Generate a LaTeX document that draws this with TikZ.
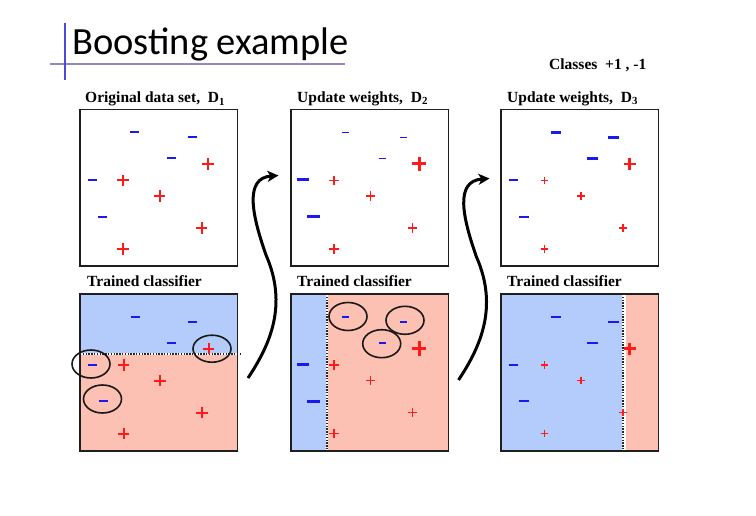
\documentclass[tikz,border=0pt]{standalone}
\usepackage{fontspec}
\setmainfont{Liberation Serif}
\newfontfamily\titlefont{Carlito}
\usetikzlibrary{arrows.meta}
\definecolor{regblue}{HTML}{B3CCFB}
\definecolor{regred}{HTML}{FCC1B3}
\definecolor{ptblue}{HTML}{1A1AF0}
\definecolor{ptred}{HTML}{FF1A1A}
\definecolor{barblue}{HTML}{4B4BD8}
\definecolor{linelav}{HTML}{8C8CCC}
\newcommand{\mkminus}[4]{\draw[ptblue,line width=#4] (#1,#2) +(-#3,0) -- +(#3,0);}
\newcommand{\mkplus}[4]{\draw[ptred,line width=#4] (#1,#2) +(-#3,0) -- +(#3,0) +(0,-#3) -- +(0,#3);}
\newcommand{\drawpts}[8]{%
 \mkminus{55.5}{24}{#1}{#2}
 \mkminus{113.3}{29}{#1}{#2}
 \mkminus{92}{50}{#1}{#2}
 \mkminus{13}{71.5}{#3}{#4}
 \mkminus{23.5}{108.3}{#3}{#4}
 \mkplus{129}{55.5}{#5}{#6}
 \mkplus{44}{72}{#7}{#8}
 \mkplus{80.5}{87.5}{#7}{#8}
 \mkplus{122.5}{119.5}{#7}{#8}
 \mkplus{44}{140.5}{#7}{#8}}
\tikzset{
 panelbox/.style={draw=black!88, line width=1.8pt, inner sep=0pt, outer sep=0pt, anchor=north west, minimum width=157.5pt, minimum height=156.5pt},
 captxt/.style={font=\bfseries\fontsize{15.5}{18}\selectfont, inner sep=0pt, anchor=base west},
 ringst/.style={draw=black!90, line width=1.6pt},
 divwhite/.style={white, line width=2.2pt},
 divdot/.style={black!85, line width=1.8pt, dash pattern=on 1.4pt off 1.4pt},
 flowarrow/.style={black, line width=3pt, -{Stealth[length=11pt,width=11pt,inset=3pt]}}
}
\begin{document}
\begin{tikzpicture}[x=1pt,y=-1pt]
\useasboundingbox[fill=white] (0,0) rectangle (756,516);
% title
\node[anchor=base west, inner sep=0pt, font=\titlefont\fontsize{38.5}{42}\selectfont] (title) at (72,55) {Boosting example};
\draw[linelav, line width=2pt] (50,64) -- (345,64);
\draw[barblue, line width=2.5pt] (65,23) -- (65,80);
\node[captxt] (classes) at (549,70) {Classes\ \ +1 , -1};
% captions
\node[captxt] (c1) at (85,103) {Original data set,\ \ D\textsubscript{1}};
\node[captxt] (c2) at (297,102.5) {Update weights,\ \ D\textsubscript{2}};
\node[captxt] (c3) at (507,102.5) {Update weights,\ \ D\textsubscript{3}};
\node[captxt] (t1) at (87,286.5) {Trained classifier};
\node[captxt] (t2) at (297,286.5) {Trained classifier};
\node[captxt] (t3) at (507,286.5) {Trained classifier};
% region fills
\fill[regblue] (80,294) rectangle (237.5,354);
\fill[regred] (80,354) rectangle (237.5,451);
\fill[regblue] (291,294) rectangle (326.7,451);
\fill[regred] (326.7,294) rectangle (448.5,451);
\fill[regblue] (501,294) rectangle (622.7,451);
\fill[regred] (622.7,294) rectangle (658.5,451);
% dividers
\draw[divwhite] (80,354) -- (242,354);
\draw[divdot] (80,354) -- (242,354);
\draw[divwhite] (326.7,294) -- (326.7,451);
\draw[divdot] (326.7,294) -- (326.7,451);
\draw[white, line width=3.5pt] (624,294) -- (624,451);
\draw[divdot] (622.7,294) -- (622.7,451);
% panels
\node[panelbox] (p1t) at (80,109.5) {};
\node[panelbox] (p2t) at (291,109.5) {};
\node[panelbox] (p3t) at (501,109.5) {};
\node[panelbox, minimum height=157pt] (p1b) at (80,294) {};
\node[panelbox, minimum height=157pt] (p2b) at (291,294) {};
\node[panelbox, minimum height=157pt] (p3b) at (501,294) {};
% points
\begin{scope}[shift={(79,108.5)}]
 \drawpts{4.5}{2pt}{4.5}{2pt}{5.8}{2pt}{5.8}{2pt}
\end{scope}
\begin{scope}[shift={(79.5,293)}]
 \drawpts{4.5}{2pt}{4.5}{2pt}{5.8}{2pt}{5.8}{2pt}
\end{scope}
\begin{scope}[shift={(290,108.5)}]
 \drawpts{3.5}{1.6pt}{6.3}{3pt}{7.3}{3pt}{4.6}{1.8pt}
\end{scope}
\begin{scope}[shift={(290,293)}]
 \drawpts{3.5}{1.6pt}{6.3}{3pt}{7.3}{3pt}{4.6}{1.8pt}
\end{scope}
\begin{scope}[shift={(500.5,108.5)}]
 \drawpts{5.4}{2.6pt}{4.6}{2pt}{6}{2.6pt}{3.9}{1.8pt}
\end{scope}
\begin{scope}[shift={(500.5,293)}]
 \drawpts{5.4}{2.6pt}{4.6}{2pt}{6}{2.6pt}{3.9}{1.8pt}
\end{scope}
% misclassified rings
\draw[ringst] (212,348.7) ellipse [x radius=19pt, y radius=13.5pt];
\draw[ringst] (91,364) ellipse [x radius=19pt, y radius=14pt];
\draw[ringst] (102.5,399) ellipse [x radius=19pt, y radius=14pt];
\draw[ringst] (348,316.5) ellipse [x radius=19pt, y radius=14pt];
\draw[ringst] (405,320.3) ellipse [x radius=19pt, y radius=14pt];
\draw[ringst] (381.7,343.7) ellipse [x radius=19pt, y radius=14pt];
% arrows
\coordinate (a1s) at (248,378);
\coordinate (a1e) at (278.5,175.5);
\coordinate (a2s) at (458.5,380);
\coordinate (a2e) at (489.5,178.5);
\draw[flowarrow] (a1s) .. controls (270,345) and (288,305) .. (266,255) .. controls (252,215) and (244,178) .. (a1e);
\draw[flowarrow] (a2s) .. controls (480.5,347) and (498.5,307) .. (476.5,257) .. controls (462.5,217) and (454.5,181) .. (a2e);
\end{tikzpicture}
\end{document}
